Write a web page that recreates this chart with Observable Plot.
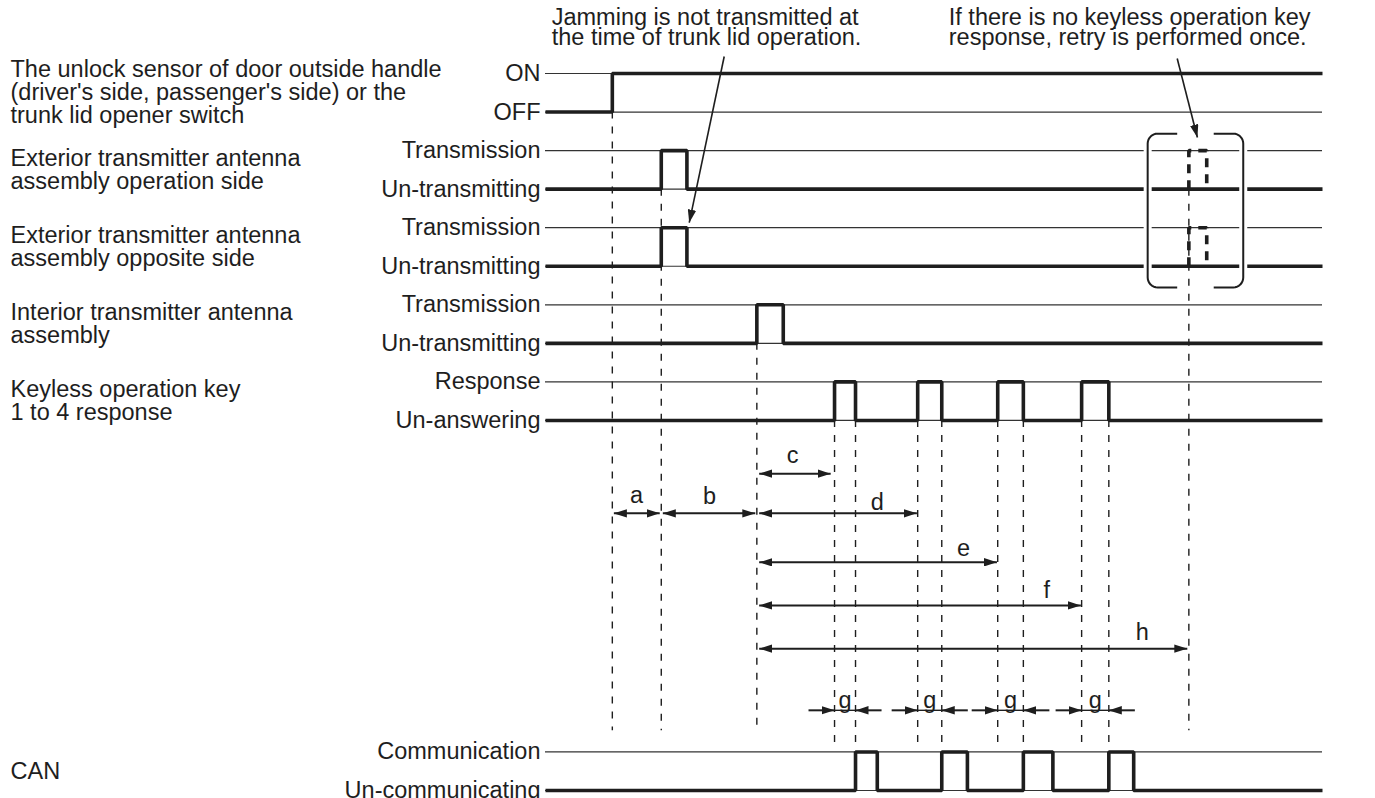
<!DOCTYPE html>
<html><head><meta charset="utf-8">
<script src="https://cdn.jsdelivr.net/npm/d3@7"></script>
<script src="https://cdn.jsdelivr.net/npm/@observablehq/plot@0.6"></script>
<style>body{margin:0;background:#fff}</style>
</head><body><div id="chart"></div>
<script>
// ---- data (time in arbitrary units 0..100, lanes: signal level rows) ----
const rowLabels = [
  "The unlock sensor of door outside handle\n(driver's side, passenger's side) or the\ntrunk lid opener switch",
  "Exterior transmitter antenna\nassembly operation side",
  "Exterior transmitter antenna\nassembly opposite side",
  "Interior transmitter antenna\nassembly",
  "Keyless operation key\n1 to 4 response",
  "CAN"
];
const highStates = ["ON", "Transmission", "Transmission", "Transmission", "Response", "Communication"];
const lowStates = ["OFF", "Un-transmitting", "Un-transmitting", "Un-transmitting", "Un-answering", "Un-communicating"];
const highLane = [0, 2, 4, 6, 8, 17.6];
const lowLane = [1, 3, 5, 7, 9, 18.6];
const tEnd = 100;

const sensorOnTime = 8.6;
const opSidePulses = [[14.9, 18.2]];
const oppSidePulses = [[14.9, 18.2]];
const interiorPulses = [[27.2, 30.6]];
const responsePulses = [[37.2, 39.9], [47.9, 51.0], [58.2, 61.5], [69.0, 72.5]];
const canPulses = [[39.9, 42.7], [51.0, 54.3], [61.5, 65.3], [72.5, 75.7]];
const retryPulse = [82.8, 85.1];
const retryRows = [1, 2];

// dashed timing marks
const markTime = [8.6, 14.9, 27.2, 37.2, 39.9, 47.9, 51.0, 58.2, 61.5, 69.0, 72.5, 82.8];
const markTop = [1, 3, 7, 9, 9, 9, 9, 9, 9, 9, 9, 3];
const markBottom = [17.05, 17.05, 17.05, 17.45, 17.45, 17.45, 17.45, 17.45, 17.45, 17.45, 17.45, 17.05];

// interval dimension arrows
const spanNames = ["a", "b", "c", "d", "e", "f", "h"];
const spanFrom = [8.8, 15.1, 27.5, 27.5, 27.5, 27.5, 27.5];
const spanTo = [14.7, 27.0, 36.7, 47.8, 58.1, 68.9, 82.6];
const spanLane = [11.41, 11.41, 10.38, 11.41, 12.68, 13.80, 14.92];
const spanLabelTime = [11.7, 21.1, 31.8, 42.7, 53.8, 64.5, 76.8];
const spanLabelLane = [10.95, 10.98, 9.91, 11.13, 12.32, 13.41, 14.5];
const gLane = 16.52, gLabelLane = 16.26;

// bracket around retry
const bracketOpen = [81.3, 86.0];
const bracketSpine = [77.5, 89.8];
const bracketTop = 1.56, bracketBottom = 5.55;

// notes
const notes = ["Jamming is not transmitted at\nthe time of trunk lid operation.",
               "If there is no keyless operation key\nresponse, retry is performed once."];
const noteTime = [0.8, 51.9];
const noteLane = [-1.16, -1.16];
const noteFrom = [[23.0, -0.44], [81.3, -0.39]];
const noteTo = [[18.5, 3.87], [83.9, 1.66]];

// ---- build ----
function pulseWave(row, list) {
  const lo = lowLane[row], hi = highLane[row];
  const pts = [{t: 0, v: lo, row}];
  for (const [a, b] of list) {
    pts.push({t: a, v: lo, row}, {t: a, v: hi, row}, {t: b, v: hi, row}, {t: b, v: lo, row});
  }
  pts.push({t: tEnd, v: lo, row});
  return pts;
}
const waves = [
  {t: 0, v: lowLane[0], row: 0}, {t: sensorOnTime, v: lowLane[0], row: 0},
  {t: sensorOnTime, v: highLane[0], row: 0}, {t: tEnd, v: highLane[0], row: 0},
  ...pulseWave(1, opSidePulses), ...pulseWave(2, oppSidePulses), ...pulseWave(3, interiorPulses),
  ...pulseWave(4, responsePulses), ...pulseWave(5, canPulses)
];
const retry = retryRows.flatMap(r => [
  {t: retryPulse[0], v: lowLane[r], row: r}, {t: retryPulse[0], v: highLane[r], row: r},
  {t: retryPulse[1], v: highLane[r], row: r}, {t: retryPulse[1], v: lowLane[r], row: r}
]);
const levels = highLane.concat(lowLane);
const rows = rowLabels.map((label, i) => ({label, hi: highLane[i], lo: lowLane[i], mid: (highLane[i] + lowLane[i]) / 2, hs: highStates[i], ls: lowStates[i]}));
const marks = markTime.map((t, i) => ({t, y1: markTop[i], y2: markBottom[i]}));
const spans = spanNames.map((n, i) => ({n, x1: spanFrom[i], x2: spanTo[i], y: spanLane[i], lx: spanLabelTime[i], ly: spanLabelLane[i]}));
const gArrowLen = 3.35;
const gSeg = responsePulses.flatMap(([a, b]) => [
  {x1: a - gArrowLen, x2: a, head: true}, {x1: b + gArrowLen, x2: b, head: true}, {x1: a, x2: b, head: false}
]);
const gLabels = responsePulses.map(([a, b]) => ({t: (a + b) / 2}));

// bracket geometry (rounded corners)
const rT = 10 / 7.77, rL = 10 / 38.55;
function bracket(open, spine, id) {
  const dir = spine < open ? 1 : -1;
  const pts = [{t: open, v: bracketTop, id}];
  const cx = spine + dir * rT;
  for (let k = 0; k <= 8; k++) { const a = Math.PI / 2 * k / 8; pts.push({t: cx - dir * rT * Math.sin(a), v: bracketTop + rL - rL * Math.cos(a), id}); }
  for (let k = 0; k <= 8; k++) { const a = Math.PI / 2 * k / 8; pts.push({t: cx - dir * rT * Math.cos(a), v: bracketBottom - rL + rL * Math.sin(a), id}); }
  pts.push({t: open, v: bracketBottom, id});
  return pts;
}
const brackets = [...bracket(bracketOpen[0], bracketSpine[0], 0), ...bracket(bracketOpen[1], bracketSpine[1], 1)];
const noteArrows = noteFrom.map((f, i) => ({x1: f[0], y1: f[1], x2: noteTo[i][0], y2: noteTo[i][1]}));
const noteTexts = notes.map((n, i) => ({n, t: noteTime[i], y: noteLane[i]}));

const INK = "#1e1e1e";
function tri(color, context) {
  const doc = (context && context.document) || document;
  const ns = "http://www.w3.org/2000/svg";
  const m = doc.createElementNS(ns, "marker");
  m.setAttribute("viewBox", "-13 -4.2 13 8.4");
  m.setAttribute("markerWidth", "13"); m.setAttribute("markerHeight", "8.4");
  m.setAttribute("markerUnits", "userSpaceOnUse");
  m.setAttribute("orient", "auto-start-reverse");
  m.setAttribute("fill", INK); m.setAttribute("stroke", "none");
  const p = doc.createElementNS(ns, "path");
  p.setAttribute("d", "M-13,-4.2L0,0L-13,4.2Z");
  m.appendChild(p);
  return m;
}

function build(marker) {
  const fs = 23.5;
  return Plot.plot({
    width: 1375, height: 798,
    marginLeft: 545, marginRight: 53, marginTop: 73, marginBottom: 8,
    x: {domain: [0, tEnd], axis: null},
    y: {domain: [0, 18.6], reverse: true, axis: null},
    style: {fontFamily: "'Liberation Sans', Arial, Helvetica, sans-serif", background: "#fff", color: INK, overflow: "visible"},
    marks: [
      Plot.ruleY(levels, {y: d => d, x1: 0, x2: tEnd, stroke: "#333", strokeWidth: 1.2}),
      Plot.ruleX(marks, {x: "t", y1: "y1", y2: "y2", stroke: INK, strokeWidth: 1.4, strokeDasharray: "7,8"}),
      Plot.line(waves, {x: "t", y: "v", z: "row", stroke: INK, strokeWidth: 3.6, strokeLinejoin: "miter", strokeLinecap: "butt"}),
      Plot.line(retry, {x: "t", y: "v", z: "row", stroke: INK, strokeWidth: 3.6, strokeDasharray: "9,7", strokeLinejoin: "miter", strokeLinecap: "butt"}),
      Plot.line(brackets, {x: "t", y: "v", z: "id", stroke: "#fff", strokeWidth: 8, strokeLinecap: "butt"}),
      Plot.line(brackets, {x: "t", y: "v", z: "id", stroke: INK, strokeWidth: 2, strokeLinecap: "butt"}),
      Plot.link(spans, {x1: "x1", x2: "x2", y1: "y", y2: "y", stroke: INK, strokeWidth: 2, markerStart: marker, markerEnd: marker}),
      Plot.link(gSeg.filter(d => d.head), {x1: "x1", x2: "x2", y1: gLane, y2: gLane, stroke: INK, strokeWidth: 2, markerEnd: marker}),
      Plot.link(gSeg.filter(d => !d.head), {x1: "x1", x2: "x2", y1: gLane, y2: gLane, stroke: INK, strokeWidth: 1.4}),
      Plot.link(noteArrows, {x1: "x1", y1: "y1", x2: "x2", y2: "y2", stroke: INK, strokeWidth: 1.6, markerEnd: marker}),
      Plot.text(spans, {x: "lx", y: "ly", text: "n", fontSize: fs, fill: INK}),
      Plot.text(gLabels, {x: "t", y: gLabelLane, text: () => "g", fontSize: fs, fill: INK}),
      Plot.text(rows, {y: "mid", text: "label", frameAnchor: "left", dx: -535, textAnchor: "start", lineAnchor: "middle", lineHeight: 0.97, fontSize: fs, fill: INK}),
      Plot.text(rows, {y: "hi", text: "hs", frameAnchor: "left", dx: -5, textAnchor: "end", fontSize: fs, fill: INK}),
      Plot.text(rows, {y: "lo", text: "ls", frameAnchor: "left", dx: -5, textAnchor: "end", fontSize: fs, fill: INK}),
      Plot.text(noteTexts, {x: "t", y: "y", text: "n", textAnchor: "start", lineAnchor: "middle", lineHeight: 0.85, fontSize: fs, fill: INK})
    ]
  });
}
let chart;
try { chart = build(tri); } catch (e) { chart = build("arrow"); }
document.getElementById("chart").appendChild(chart);
</script>
</body></html>
